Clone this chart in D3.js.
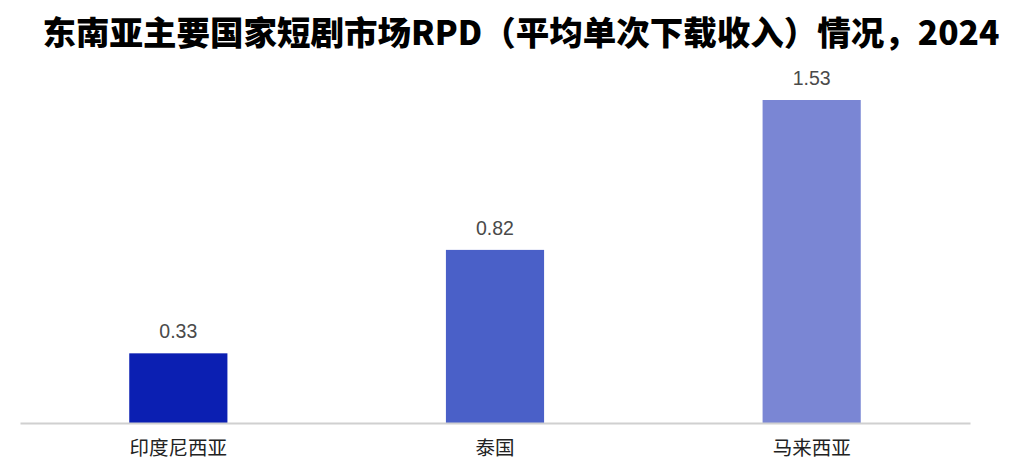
<!DOCTYPE html>
<html><head><meta charset="utf-8">
<script src="https://cdn.jsdelivr.net/npm/d3@7"></script>
<style>body{margin:0;background:#fff}svg{display:block}</style>
</head><body>
<svg id="c" width="1024" height="474"></svg>
<script>
const categories = ["印度尼西亚", "泰国", "马来西亚"];
const values = [0.33, 0.82, 1.53];
const colors = ["#0b1fb2", "#4a60c8", "#7a86d4"];
const title = "东南亚主要国家短剧市场RPD（平均单次下载收入）情况，2024";

const svg = d3.select("#c");
const x = d3.scaleBand().domain(categories).range([20, 970]).paddingInner(0.69).paddingOuter(0.345);
const y = d3.scaleLinear().domain([0, 1.53]).range([423, 100]);

svg.append("text").attr("x", 521).attr("y", 45).attr("text-anchor", "middle")
  .attr("font-family", "'Noto Sans CJK SC', sans-serif").attr("font-weight", 900)
  .attr("font-size", 33.5).attr("fill", "#000").text(title);

svg.selectAll("rect.bar").data(values).join("rect").attr("class", "bar")
  .attr("x", (d, i) => x(categories[i])).attr("width", x.bandwidth())
  .attr("y", d => y(d)).attr("height", d => y(0) - y(d))
  .attr("fill", (d, i) => colors[i]);

svg.selectAll("text.val").data(values).join("text").attr("class", "val")
  .attr("x", (d, i) => x(categories[i]) + x.bandwidth() / 2)
  .attr("y", d => y(d) - 15).attr("text-anchor", "middle")
  .attr("font-family", "'Liberation Sans', Arial, sans-serif").attr("font-size", 19.5)
  .attr("fill", "#4a4a4a").text(d => d.toFixed(2));

const ax = svg.append("g").attr("transform", `translate(0,${y(0)})`)
  .call(d3.axisBottom(x).tickSize(0).tickPadding(18));
ax.select(".domain").attr("stroke", "#d0d0d0").attr("stroke-width", 2);
ax.selectAll("text").attr("font-family", "'Noto Sans CJK SC', sans-serif")
  .attr("font-size", 19.5).attr("fill", "#222");
</script>
</body></html>
